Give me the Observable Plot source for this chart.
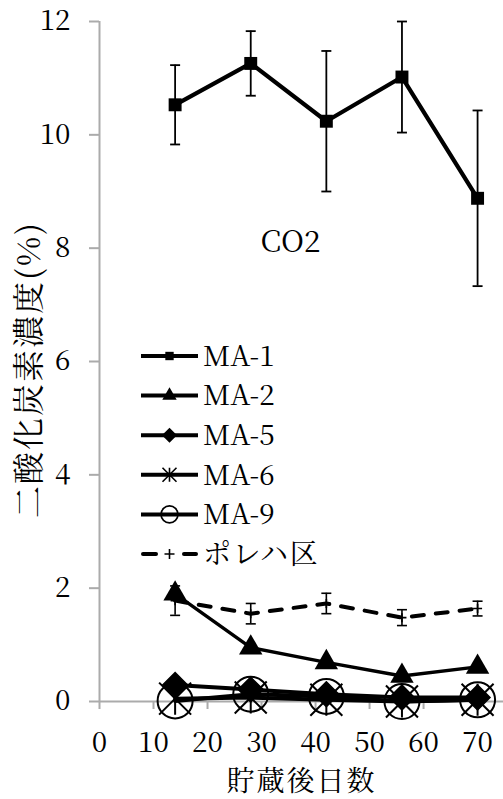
<!DOCTYPE html>
<html><head><meta charset="utf-8">
<script src="https://cdn.jsdelivr.net/npm/d3@7"></script>
<script src="https://cdn.jsdelivr.net/npm/@observablehq/plot@0.6"></script>
<style>
body{margin:0;background:#fff;}
#wrap{position:relative;width:503px;height:799px;}
#legend{position:absolute;left:0;top:0;pointer-events:none;}
</style></head><body><div id="wrap"></div>
<script>
// ---- data ----
const days = [14, 28, 42, 56, 70];
const ma1 = [10.53, 11.26, 10.24, 11.02, 8.88];
const ma1Err = [0.70, 0.57, 1.24, 0.98, 1.55];
const ma2 = [1.90, 0.95, 0.69, 0.45, 0.61];
const ma5 = [0.29, 0.21, 0.13, 0.07, 0.07];
const ma6 = [0.05, 0.07, 0.03, 0.00, 0.03];
const ma9 = [0.01, 0.13, 0.09, 0.00, 0.03];
const poreha = [1.78, 1.55, 1.73, 1.48, 1.64];
const porehaErr = [0.26, 0.18, 0.18, 0.14, 0.13];
const seriesNames = ["MA-1", "MA-2", "MA-5", "MA-6", "MA-9", "ポレハ区"];
const xTicks = [0, 10, 20, 30, 40, 50, 60, 70];
const yTicks = [0, 2, 4, 6, 8, 10, 12];
const xLabel = "貯蔵後日数";
const yLabel = "二酸化炭素濃度(%)";
const gasLabel = "CO2";

const rows = (name, vals, errs) => days.map((d, i) => ({series: name, day: d, value: vals[i], err: errs ? errs[i] : 0}));
const dMA1 = rows("MA-1", ma1, ma1Err);
const dMA2 = rows("MA-2", ma2);
const dMA5 = rows("MA-5", ma5);
const dMA6 = rows("MA-6", ma6);
const dMA9 = rows("MA-9", ma9);
const dPor = rows("ポレハ区", poreha, porehaErr);

// custom symbols
const hline = {draw(ctx, size) { const r = Math.sqrt(size / Math.PI); ctx.moveTo(-r, 0); ctx.lineTo(r, 0); }};
const plus = {draw(ctx, size) { const r = Math.sqrt(size / Math.PI); ctx.moveTo(-r, 0); ctx.lineTo(r, 0); ctx.moveTo(0, -r); ctx.lineTo(0, r); }};
const star = {draw(ctx, size) { const r = Math.sqrt(size / Math.PI); ctx.moveTo(-r, -r); ctx.lineTo(r, r); ctx.moveTo(-r, r); ctx.lineTo(r, -r); ctx.moveTo(0, -r); ctx.lineTo(0, r); }};

const fontStack = "Noto Serif CJK JP, Liberation Serif, serif";
const axisGray = "#ababab";

const errMarks = (data, capR, sw) => [
  Plot.ruleX(data, {x: "day", y1: d => d.value - d.err, y2: d => d.value + d.err, stroke: "black", strokeWidth: sw}),
  Plot.dot(data, {x: "day", y: d => d.value + d.err, symbol: hline, r: capR, stroke: "black", strokeWidth: sw, fill: "none"}),
  Plot.dot(data, {x: "day", y: d => d.value - d.err, symbol: hline, r: capR, stroke: "black", strokeWidth: sw, fill: "none"})
];

const chart = Plot.plot({
  width: 503, height: 799,
  marginLeft: 99, marginRight: 0, marginTop: 21, marginBottom: 98,
  x: {domain: [0, 74.8]},
  y: {domain: [0, 12]},
  style: {fontFamily: fontStack, fontSize: "28px", color: "black", background: "white"},
  marks: [
    Plot.ruleX([0], {stroke: axisGray, strokeWidth: 2}),
    Plot.ruleY([0], {stroke: axisGray, strokeWidth: 2}),
    Plot.axisY(yTicks, {tickSize: 10, tickPadding: 19, stroke: axisGray, strokeWidth: 2, fontSize: 28, fontFamily: fontStack, tickFormat: d => String(d), label: null}),
    Plot.axisX(xTicks, {tickSize: 8, tickPadding: 23, stroke: axisGray, strokeWidth: 2, fontSize: 28, fontFamily: fontStack, tickFormat: d => String(d), label: null}),
    Plot.text([yLabel], {frameAnchor: "left", textAnchor: "middle", lineAnchor: "middle", dx: -70, dy: 8, rotate: -90, fontSize: 32, fontFamily: fontStack}),
    Plot.text([xLabel], {frameAnchor: "bottom", textAnchor: "middle", lineAnchor: "middle", dy: 81, fontSize: 28, fontFamily: fontStack}),
    Plot.text([gasLabel], {frameAnchor: "top-left", textAnchor: "middle", lineAnchor: "middle", dx: 191, dy: 221, fontSize: 30, fontFamily: fontStack}),
    // MA-1
    Plot.line(dMA1, {x: "day", y: "value", stroke: "black", strokeWidth: 4.2}),
    ...errMarks(dMA1, 5, 1.8),
    Plot.dot(dMA1, {x: "day", y: "value", symbol: "square", r: 7.3, fill: "black"}),
    // ポレハ区
    Plot.line(dPor, {x: "day", y: "value", stroke: "black", strokeWidth: 4, strokeDasharray: "12,12"}),
    ...errMarks(dPor, 5, 1.6),
    Plot.dot(dPor, {x: "day", y: "value", symbol: plus, r: 4.5, stroke: "black", strokeWidth: 1.6, fill: "none"}),
    // MA-2
    Plot.line(dMA2, {x: "day", y: "value", stroke: "black", strokeWidth: 3.4}),
    Plot.dot(dMA2, {x: "day", y: "value", symbol: "triangle", r: 8.7, fill: "black"}),
    // MA-5
    Plot.line(dMA5, {x: "day", y: "value", stroke: "black", strokeWidth: 4}),
    Plot.dot(dMA5, {x: "day", y: "value", symbol: "diamond2", r: 11.2, fill: "black", stroke: "black"}),
    // MA-6
    Plot.line(dMA6, {x: "day", y: "value", stroke: "black", strokeWidth: 4}),
    Plot.dot(dMA6, {x: "day", y: "value", symbol: star, r: 16, stroke: "black", strokeWidth: 2, fill: "none"}),
    // MA-9
    Plot.line(dMA9, {x: "day", y: "value", stroke: "black", strokeWidth: 4}),
    Plot.dot(dMA9, {x: "day", y: "value", symbol: "circle", r: 17.5, stroke: "black", strokeWidth: 2, fill: "none"})
  ]
});
const wrap = document.getElementById("wrap");
wrap.appendChild(chart);
// force the serif/Mincho-like face on every text, add the spacing of the axis titles
d3.select(chart).selectAll("text").style("font-family", fontStack);
d3.select(chart).selectAll("text").filter(function() { return this.textContent === yLabel; }).style("letter-spacing", "2px");
d3.select(chart).selectAll("text").filter(function() { return this.textContent === xLabel; }).style("letter-spacing", "2px");

// ---- legend overlay (inside plot area, as in reference) ----
const legendSymbols = [
  {type: d3.symbolSquare, size: 70, fill: "black", stroke: "none"},
  {type: d3.symbolTriangle, size: 90, fill: "black", stroke: "none"},
  {type: d3.symbolDiamond2, size: 145, fill: "black", stroke: "none"},
  {type: star, size: Math.PI * 49, fill: "none", stroke: "black"},
  {type: d3.symbolCircle, size: Math.PI * 72, fill: "none", stroke: "black"},
  {type: plus, size: Math.PI * 25, fill: "none", stroke: "black"}
];
const svg = d3.select(wrap).append("svg").attr("id", "legend").attr("width", 503).attr("height", 799);
const lx0 = 141, lx1 = 198, ly0 = 356, lstep = 39.6, ltx = 203;
seriesNames.forEach((name, i) => {
  const y = ly0 + i * lstep;
  const g = svg.append("g").attr("transform", `translate(0,${y})`);
  if (i === 5) {
    g.append("line").attr("x1", lx0 + 2).attr("x2", 156).attr("y1", 0).attr("y2", 0).attr("stroke", "black").attr("stroke-width", 4).attr("stroke-linecap", "round");
    g.append("line").attr("x1", 184).attr("x2", lx1 - 2).attr("y1", 0).attr("y2", 0).attr("stroke", "black").attr("stroke-width", 4).attr("stroke-linecap", "round");
  } else {
    g.append("line").attr("x1", lx0).attr("x2", lx1).attr("y1", 0).attr("y2", 0).attr("stroke", "black").attr("stroke-width", 4);
  }
  const s = legendSymbols[i];
  g.append("path").attr("transform", `translate(${(lx0 + lx1) / 2},0)`)
    .attr("d", d3.symbol(s.type, s.size)())
    .attr("fill", s.fill).attr("stroke", s.stroke).attr("stroke-width", 1.6);
  g.append("text").attr("x", ltx).attr("y", 0).attr("dy", "0.35em")
    .style("font-family", fontStack).attr("font-size", 28)
    .style("letter-spacing", i === 5 ? "1.5px" : "0px")
    .text(name);
});
</script></body></html>
